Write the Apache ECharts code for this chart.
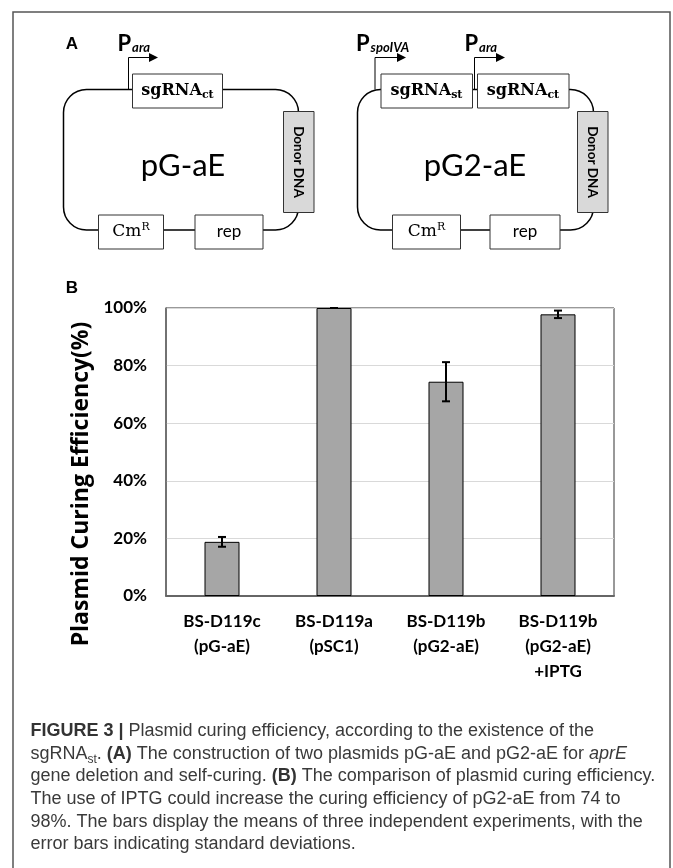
<!DOCTYPE html>
<html>
<head>
<meta charset="utf-8">
<script src="https://cdn.jsdelivr.net/npm/echarts@6/dist/echarts.min.js"></script>
<style>
html,body{margin:0;padding:0;background:#fff;}
#chart{width:673px;height:868px;}
</style>
</head>
<body>
<div id="chart"></div>
<script>
// ---- data ----
const categories = ['BS-D119c\n(pG-aE)', 'BS-D119a\n(pSC1)', 'BS-D119b\n(pG2-aE)', 'BS-D119b\n(pG2-aE)\n+IPTG'];
const means = [18.8, 100, 74.4, 97.8];
const sds = [1.7, 0, 6.8, 1.3];
const yMin = 0, yMax = 100, yStep = 20;
const yTitle = 'Plasmid Curing Efficiency(%)';
const captionRich =
  '{b|FIGURE 3 |}{n| Plasmid curing efficiency, according to the existence of the}\n' +
  '{n|sgRNA}{s|st}{n|. }{b|(A)}{n| The construction of two plasmids pG-aE and pG2-aE for }{i|aprE}\n' +
  '{n|gene deletion and self-curing. }{b|(B)}{n| The comparison of plasmid curing efficiency.}\n' +
  '{n|The use of IPTG could increase the curing efficiency of pG2-aE from 74 to}\n' +
  '{n|98%. The bars display the means of three independent experiments, with the}\n' +
  '{n|error bars indicating standard deviations.}';

const errData = means.map((m, i) => [i, m - sds[i], m + sds[i]]);

const SANS = 'Lato';
const SERIF = 'DejaVu Serif';
const CAP = 'Liberation Sans';

function box(x, y, w, h, fill) {
  return {type: 'rect', shape: {x: x, y: y, width: w, height: h},
    style: {fill: fill || '#fff', stroke: '#333', lineWidth: 1}, z: 10};
}
function txt(x, y, text, st, extra) {
  return Object.assign({type: 'text', x: x, y: y, z: 20,
    style: Object.assign({text: text, fill: '#000'}, st)}, extra || {});
}
function sgText(cx, cy, sub) {
  return txt(cx, cy, '{a|sgRNA}{s|' + sub + '}', {
    align: 'center', verticalAlign: 'middle',
    rich: {
      a: {fontFamily: SERIF, fontWeight: 'bold', fontSize: 16, lineHeight: 20, fill: '#000'},
      s: {fontFamily: SERIF, fontWeight: 'bold', fontSize: 11, lineHeight: 11, verticalAlign: 'bottom', fill: '#000'}
    }
  });
}
function cmText(cx, cy) {
  return txt(cx, cy, '{a|Cm}{r|R}', {
    align: 'center', verticalAlign: 'middle',
    rich: {
      a: {fontFamily: SERIF, fontSize: 17, lineHeight: 20, fill: '#000'},
      r: {fontFamily: SERIF, fontSize: 11, lineHeight: 11, verticalAlign: 'top', fill: '#000'}
    }
  });
}
function promoter(x, yBase, yTop, xEnd, label, labelX) {
  return [
    {type: 'polyline', z: 15, shape: {points: [[x, yBase], [x, yTop], [xEnd - 8, yTop]]},
      style: {stroke: '#000', lineWidth: 1, fill: null}},
    {type: 'polygon', z: 15, shape: {points: [[xEnd - 9, yTop - 4.5], [xEnd, yTop], [xEnd - 9, yTop + 4.5]]},
      style: {fill: '#000'}},
    txt(labelX, 44, '{p|P}{s|' + label + '}', {
      align: 'left', verticalAlign: 'middle',
      rich: {
        p: {fontFamily: SANS, fontWeight: 'bold', fontSize: 22, lineHeight: 24, fill: '#000'},
        s: {fontFamily: SANS, fontWeight: 'bold', fontStyle: 'italic', fontSize: 13, lineHeight: 13, verticalAlign: 'bottom', fill: '#000', padding: [0, 0, 2, 1]}
      }
    })
  ];
}
function plasmid(x, y, w, h) {
  return {type: 'rect', z: 5, shape: {x: x, y: y, width: w, height: h, r: 23},
    style: {fill: null, stroke: '#000', lineWidth: 1.5}};
}

const graphics = [
  // outer frame
  {type: 'rect', z: 1, shape: {x: 13, y: 12, width: 657, height: 880},
    style: {fill: null, stroke: '#555', lineWidth: 1.5}},
  txt(72, 44, 'A', {fontFamily: CAP, fontWeight: 'bold', fontSize: 17, align: 'center', verticalAlign: 'middle'}),
  txt(72, 288, 'B', {fontFamily: CAP, fontWeight: 'bold', fontSize: 17, align: 'center', verticalAlign: 'middle'}),

  // ---- left plasmid pG-aE ----
  plasmid(63.5, 89.5, 235, 140.5),
  box(132.5, 74, 90, 34), sgText(177.5, 91, 'ct'),
  box(283.5, 111.5, 30.5, 101, '#d9d9d9'),
  txt(298.7, 162, 'Donor DNA', {fontFamily: SANS, fontWeight: 'bold', fontSize: 13.5, align: 'center', verticalAlign: 'middle'}, {rotation: -Math.PI / 2}),
  box(98.5, 215, 65, 34), cmText(131, 232),
  box(195, 215, 68, 34), txt(229, 232, 'rep', {fontFamily: SANS, fontSize: 17, align: 'center', verticalAlign: 'middle'}),
  txt(183, 166, 'pG-aE', {fontFamily: SANS, fontSize: 31, align: 'center', verticalAlign: 'middle'}),
  ...promoter(128.5, 89.5, 57.5, 158, 'ara', 117.5),

  // ---- right plasmid pG2-aE ----
  plasmid(357.5, 89.5, 236, 140.5),
  box(381, 74, 91.5, 34), sgText(426.5, 91, 'st'),
  box(477.5, 74, 91.5, 34), sgText(523, 91, 'ct'),
  box(577.5, 111.5, 30.5, 101, '#d9d9d9'),
  txt(592.8, 162, 'Donor DNA', {fontFamily: SANS, fontWeight: 'bold', fontSize: 13.5, align: 'center', verticalAlign: 'middle'}, {rotation: -Math.PI / 2}),
  box(392.5, 215, 68, 34), cmText(426.5, 232),
  box(490, 215, 70, 34), txt(525, 232, 'rep', {fontFamily: SANS, fontSize: 17, align: 'center', verticalAlign: 'middle'}),
  txt(475, 166, 'pG2-aE', {fontFamily: SANS, fontSize: 31, align: 'center', verticalAlign: 'middle'}),
  ...promoter(375, 89.5, 57.5, 406, 'spoIVA', 356),
  ...promoter(474.5, 89.5, 57.5, 505, 'ara', 464.5),

  // ---- caption ----
  txt(30.5, 720, captionRich, {
    align: 'left', verticalAlign: 'top',
    rich: {
      n: {fontFamily: CAP, fontSize: 18, lineHeight: 22.6, fill: '#3a3a3a'},
      b: {fontFamily: CAP, fontSize: 18, fontWeight: 'bold', lineHeight: 22.6, fill: '#333'},
      i: {fontFamily: CAP, fontSize: 18, fontStyle: 'italic', lineHeight: 22.6, fill: '#3a3a3a'},
      s: {fontFamily: CAP, fontSize: 12, lineHeight: 13, verticalAlign: 'bottom', fill: '#3a3a3a'}
    }
  })
];

const chart = echarts.init(document.getElementById('chart'), null, {renderer: 'canvas'});
chart.setOption({
  animation: false,
  backgroundColor: '#fff',
  grid: {left: 166, top: 308, width: 448, height: 288, show: true, borderColor: '#333', borderWidth: 1, backgroundColor: 'transparent'},
  xAxis: {
    type: 'category', data: categories,
    axisTick: {show: false},
    axisLine: {lineStyle: {color: '#666', width: 2}},
    axisLabel: {interval: 0, fontFamily: SANS, fontWeight: 'bold', fontSize: 17, color: '#000', lineHeight: 25, margin: 13}
  },
  yAxis: {
    type: 'value', min: yMin, max: yMax, interval: yStep,
    name: yTitle, nameLocation: 'middle', nameGap: 67, nameRotate: 90,
    nameTextStyle: {fontFamily: 'Open Sans', fontWeight: 'bold', fontSize: 23, color: '#000', padding: [0, 64, 0, 0]},
    axisLine: {show: true, lineStyle: {color: '#666', width: 1.5}},
    axisTick: {show: false},
    splitLine: {lineStyle: {color: '#d9d9d9', width: 1}},
    axisLabel: {formatter: '{value}%', fontFamily: SANS, fontWeight: 'bold', fontSize: 17, color: '#000', margin: 19}
  },
  series: [
    {type: 'bar', data: means, barWidth: 35, z: 2,
      itemStyle: {color: '#a6a6a6', borderColor: '#000', borderWidth: 1}},
    {type: 'custom', data: errData, z: 5, encode: {x: 0, y: [1, 2]},
      renderItem: function (params, api) {
        const i = api.value(0);
        const lo = api.coord([i, api.value(1)]);
        const hi = api.coord([i, api.value(2)]);
        const w = 4;
        const st = {stroke: '#000', lineWidth: 2};
        return {type: 'group', children: [
          {type: 'line', shape: {x1: lo[0], y1: lo[1], x2: hi[0], y2: hi[1]}, style: st},
          {type: 'line', shape: {x1: lo[0] - w, y1: lo[1], x2: lo[0] + w, y2: lo[1]}, style: st},
          {type: 'line', shape: {x1: hi[0] - w, y1: hi[1], x2: hi[0] + w, y2: hi[1]}, style: st}
        ]};
      }}
  ],
  graphic: graphics
});
</script>
</body>
</html>
